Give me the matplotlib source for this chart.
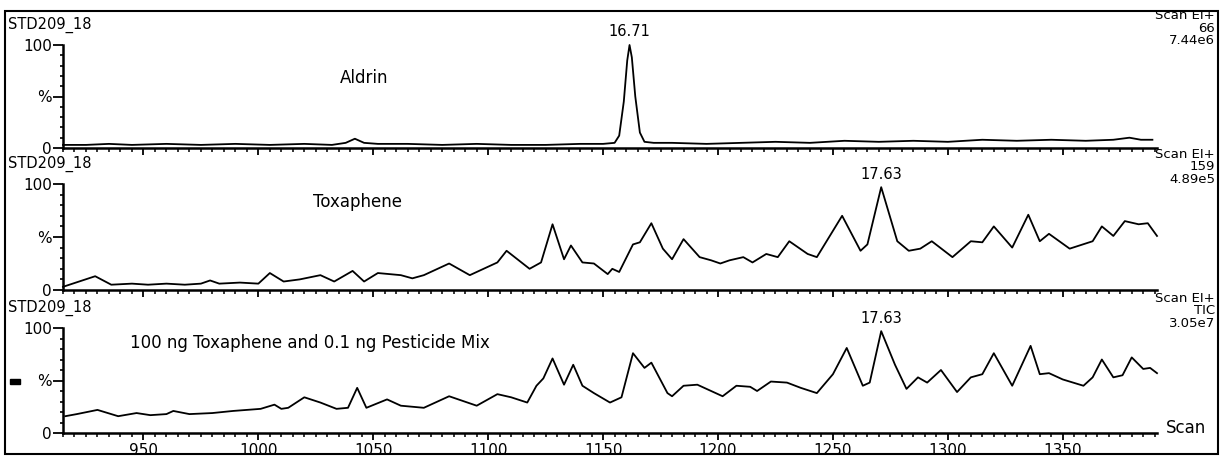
import matplotlib.pyplot as plt
import numpy as np
from matplotlib.patches import Rectangle
from matplotlib.ticker import MultipleLocator

# chromatogram traces, scan number vs relative intensity (%)
aldrin_scan = [915, 925, 935, 945, 960, 975, 990, 1005, 1020, 1032, 1038, 1042, 1046, 1052,
               1065, 1080, 1095, 1110, 1125, 1140, 1150, 1155, 1157, 1159, 1160.5, 1161.5,
               1162.5, 1164, 1166, 1168, 1172, 1180, 1195, 1210, 1225, 1240, 1255, 1270,
               1285, 1300, 1315, 1330, 1345, 1360, 1372, 1379, 1384, 1389]
aldrin_pct = [3, 3, 4, 3, 4, 3, 4, 3, 4, 3, 5, 9, 5, 4,
              4, 3, 4, 3, 3, 4, 4, 5, 12, 45, 85, 100,
              88, 50, 15, 6, 5, 5, 4, 5, 6, 5, 7, 6,
              7, 6, 8, 7, 8, 7, 8, 10, 8, 8]

toxa_scan = [915, 929, 936, 945, 952, 960, 968, 975, 979, 983, 992, 1000, 1005, 1011, 1018,
             1027, 1033, 1041, 1046, 1052, 1062, 1067, 1072, 1083, 1092, 1104, 1108, 1118,
             1123, 1128, 1133, 1136, 1141, 1146, 1152, 1154, 1157, 1163, 1166, 1171, 1176,
             1180, 1185, 1192, 1197, 1201, 1205, 1211, 1215, 1221, 1226, 1231, 1239, 1243,
             1254, 1262, 1265, 1271, 1278, 1283, 1288, 1293, 1302, 1310, 1315, 1320, 1328,
             1335, 1340, 1344, 1353, 1363, 1367, 1372, 1377, 1383, 1387, 1391]
toxa_pct = [3, 13, 5, 6, 5, 6, 5, 6, 9, 6, 7, 6, 16, 8, 10,
            14, 8, 18, 8, 16, 14, 11, 14, 25, 14, 26, 37, 20,
            26, 62, 29, 42, 26, 25, 15, 20, 17, 43, 45, 63, 39,
            29, 48, 31, 28, 25, 28, 31, 26, 34, 31, 46, 34, 31,
            70, 37, 43, 97, 46, 37, 39, 46, 31, 46, 45, 60, 40,
            71, 46, 53, 39, 46, 60, 51, 65, 62, 63, 51]

tic_scan = [916, 921, 930, 939, 947, 953, 960, 963, 970, 980, 989, 1001, 1007, 1010,
            1013, 1020, 1027, 1034, 1039, 1043, 1047, 1056, 1062, 1072, 1083, 1095, 1104,
            1110, 1117, 1121, 1124, 1128, 1133, 1137, 1141, 1146, 1153, 1158, 1163, 1168,
            1171, 1178, 1180, 1185, 1191, 1197, 1202, 1208, 1214, 1217, 1223, 1230, 1236,
            1243, 1250, 1256, 1263, 1266, 1271, 1277, 1282, 1287, 1291, 1297, 1304, 1310,
            1315, 1320, 1328, 1336, 1340, 1344, 1350, 1359, 1363, 1367, 1372, 1376, 1380,
            1385, 1388, 1391]
tic_pct = [16, 18, 22, 16, 19, 17, 18, 21, 18, 19, 21, 23, 27, 23,
           24, 34, 29, 23, 24, 43, 24, 32, 26, 24, 35, 26, 37,
           34, 29, 45, 52, 71, 46, 65, 45, 38, 29, 34, 76, 62,
           67, 38, 35, 45, 46, 40, 35, 45, 44, 40, 49, 48, 43,
           38, 56, 81, 45, 48, 97, 65, 42, 53, 48, 60, 39, 53,
           56, 76, 45, 83, 56, 57, 51, 45, 53, 70, 53, 55, 72,
           61, 62, 57]

traces = [(aldrin_scan, aldrin_pct), (toxa_scan, toxa_pct), (tic_scan, tic_pct)]
run_names = ['STD209_18', 'STD209_18', 'STD209_18']
ion_labels = ['66', '159', 'TIC']
max_counts = ['7.44e6', '4.89e5', '3.05e7']
compounds = ['Aldrin', 'Toxaphene', '100 ng Toxaphene and 0.1 ng Pesticide Mix']
peak_times = ['16.71', '17.63', '17.63']
y_ticks = [0, 50, 100]
y_ticklabels = ['0', '%', '100']

W, H = 1221, 458
fig = plt.figure(figsize=(W / 100, H / 100), dpi=100)
plt.rcParams['font.family'] = 'DejaVu Sans'


def fx(x):
    return x / W


def fy(y):
    return 1 - y / H


# pixel rows of each panel (top = 100 %, bottom = 0 %)
rows = [(45, 148), (184, 290), (328, 433)]
compound_pos = [(340, 78), (313, 202), (130, 343)]
left, right = 63, 1157

for i, (top, bot) in enumerate(rows):
    ax = fig.add_axes([fx(left), fy(bot), fx(right) - fx(left), (bot - top) / H])
    scan, pct = traces[i]
    ax.plot(scan, pct, color='black', lw=1.3, clip_on=False)
    ax.set_xlim(915, 1391)
    ax.set_ylim(0, 100)
    ax.patch.set_alpha(0)
    for s in ['top', 'right']:
        ax.spines[s].set_visible(False)
    for s in ['left', 'bottom']:
        ax.spines[s].set_linewidth(1.8)
    ax.set_yticks(y_ticks)
    ax.set_yticklabels(y_ticklabels)
    ax.yaxis.set_minor_locator(MultipleLocator(10))
    ax.xaxis.set_major_locator(MultipleLocator(50))
    ax.xaxis.set_minor_locator(MultipleLocator(5))
    ax.tick_params(axis='y', which='major', length=7, width=1.3, pad=1, labelsize=11)
    ax.tick_params(axis='y', which='minor', length=2.5, width=1.2)
    ax.tick_params(axis='x', which='major', length=5, width=1.3, pad=2, labelsize=11)
    ax.tick_params(axis='x', which='minor', length=3, width=1.1)
    if i < 2:
        ax.tick_params(axis='x', labelbottom=False)

    # peak retention time above the tallest point
    k = int(np.argmax(pct))
    ax.annotate(peak_times[i], (scan[k], pct[k]), xytext=(0, 4), textcoords='offset points',
                ha='center', va='bottom', fontsize=10.5, annotation_clip=False)

    fig.text(fx(8), fy(top - 20), run_names[i], ha='left', va='center', fontsize=10.5)
    # acquisition info block, three short lines
    info = '\n'.join(['Scan EI+', ion_labels[i], max_counts[i]])
    fig.text(fx(1215), fy(top - 17), info, ha='right', va='center', fontsize=9.5,
             linespacing=0.95, multialignment='right')
    cx, cy = compound_pos[i]
    fig.text(fx(cx), fy(cy), compounds[i], ha='left', va='center', fontsize=12)

fig.text(fx(1166), fy(428), 'Scan', ha='left', va='center', fontsize=12)

# outer frame of the printout
fig.add_artist(Rectangle((fx(5), fy(454)), fx(1218) - fx(5), (454 - 11) / H,
                         transform=fig.transFigure, fill=False, lw=1.5, ec='black'))
# small black blot left of the TIC panel
fig.add_artist(Rectangle((fx(10), fy(384)), 10 / W, 5 / H,
                         transform=fig.transFigure, color='black'))

fig.savefig('out.png', dpi=100)
